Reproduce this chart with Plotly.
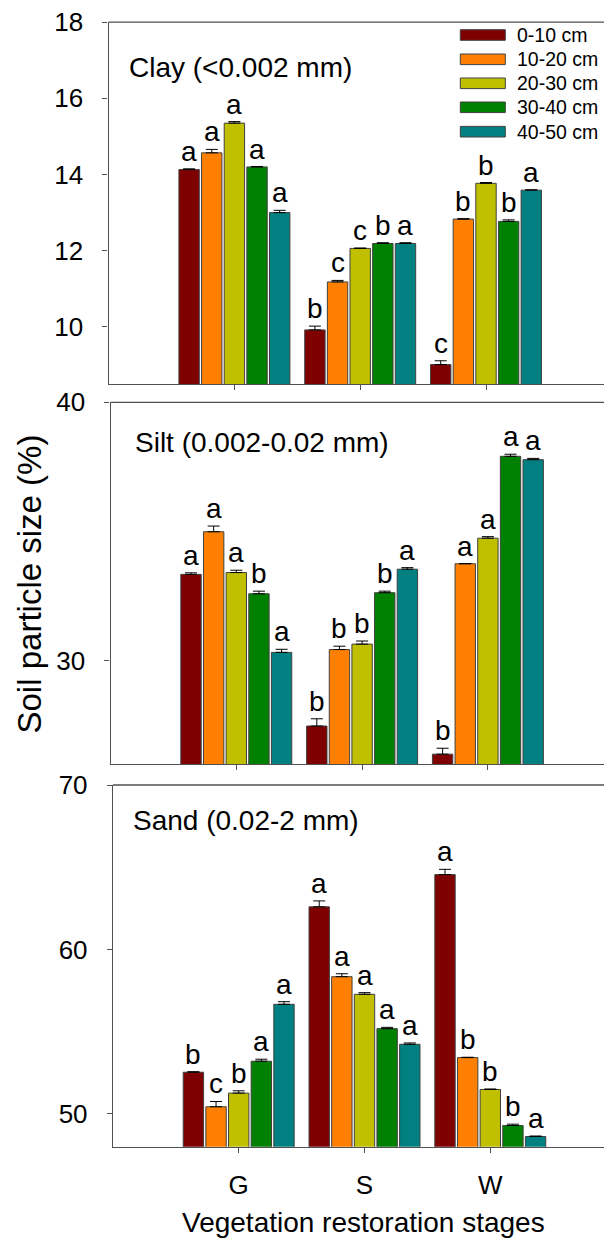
import plotly.graph_objects as go

stages = ["G", "S", "W"]
depths = ["0-10 cm", "10-20 cm", "20-30 cm", "30-40 cm", "40-50 cm"]
colors = ["#7F0000", "#FF8000", "#C0C000", "#008000", "#008080"]

# Clay (<0.002 mm): per depth, values for G, S, W
clay_mean = [[14.13, 9.92, 9.01], [14.57, 11.18, 12.83], [15.35, 12.06, 13.77],
             [14.20, 12.19, 12.77], [13.00, 12.19, 13.59]]
clay_err = [[0.02, 0.10, 0.10], [0.09, 0.04, 0.01], [0.04, 0.01, 0.02],
            [0.01, 0.02, 0.04], [0.06, 0.02, 0.01]]
clay_let = [["a", "b", "c"], ["a", "c", "b"], ["a", "c", "b"], ["a", "b", "b"], ["a", "a", "a"]]

# Silt (0.002-0.02 mm)
silt_mean = [[33.34, 27.47, 26.38], [34.99, 30.43, 33.75], [33.41, 30.64, 34.74],
             [32.59, 32.63, 37.91], [30.32, 33.54, 37.78]]
silt_err = [[0.06, 0.28, 0.23], [0.22, 0.13, 0.01], [0.09, 0.12, 0.06],
            [0.10, 0.06, 0.08], [0.12, 0.06, 0.05]]
silt_let = [["a", "b", "b"], ["a", "b", "a"], ["a", "b", "a"], ["b", "b", "a"], ["a", "a", "a"]]

# Sand (0.02-2 mm)
sand_mean = [[52.53, 62.59, 64.55], [50.43, 58.34, 53.42], [51.26, 57.27, 51.48],
             [53.20, 55.18, 49.29], [56.66, 54.23, 48.62]]
sand_err = [[0.03, 0.36, 0.32], [0.32, 0.18, 0.02], [0.14, 0.10, 0.03],
            [0.12, 0.08, 0.08], [0.16, 0.08, 0.03]]
sand_let = [["b", "a", "a"], ["c", "a", "b"], ["b", "a", "b"], ["a", "a", "b"], ["a", "a", "a"]]

panel_titles = ["Clay (&lt;0.002 mm)", "Silt (0.002-0.02 mm)", "Sand (0.02-2 mm)"]
y_ranges = [[8.5, 18], [26, 40], [48, 70]]
y_dticks = [2, 10, 10]
y_title = "Soil particle size (%)"
x_title = "Vegetation restoration stages"

W, H = 604, 1240
FONT = "Liberation Sans, Arial, sans-serif"
LINE = "#505050"

# panel geometry in pixels (left, top, bottom)
panels_px = [(108.6, 22.2, 384), (110.5, 402.3, 764), (112.9, 785, 1146.7)]
title_px = [(127, 67), (133, 442), (131, 820)]
px_per_cat = 125.8
RIGHT = 604.0  # the frame runs off the right edge of the picture

data = [(clay_mean, clay_err, clay_let), (silt_mean, silt_err, silt_let),
        (sand_mean, sand_err, sand_let)]

fig = go.Figure()
annotations = []
shapes = []
layout_axes = {}
offsets = [-0.36, -0.18, 0.0, 0.18, 0.36]

for p, (means, errs, lets) in enumerate(data):
    sfx = "" if p == 0 else str(p + 1)
    xa, ya = "x" + sfx, "y" + sfx
    left, top, bottom = panels_px[p]
    for d in range(len(depths)):
        fig.add_trace(go.Bar(
            x=stages, y=means[d], name=depths[d], xaxis=xa, yaxis=ya,
            marker=dict(color=colors[d], line=dict(color="#404040", width=1)),
            error_y=dict(type="data", symmetric=False, array=errs[d],
                         arrayminus=[0] * len(stages), color="black",
                         thickness=1, width=6),
            showlegend=False,
        ))
        for s in range(len(stages)):
            annotations.append(dict(
                x=s + offsets[d], y=means[d][s] + errs[d][s], xref=xa, yref=ya,
                text=lets[d][s], showarrow=False, yanchor="bottom", xanchor="center",
                yshift=0, font=dict(family=FONT, size=28, color="black")))
    x_end = -1 + (RIGHT - left) / px_per_cat
    layout_axes["xaxis" + sfx] = dict(
        domain=[left / W, RIGHT / W], anchor=ya, range=[-1, x_end], type="category",
        showline=True, linecolor=LINE, linewidth=1.3, mirror=False,
        ticks="outside", ticklen=5, tickcolor=LINE, showgrid=False, automargin=False,
        zeroline=False,
        showticklabels=(p == 2), tickfont=dict(family=FONT, size=26, color="black"),
        ticklabelstandoff=10)
    layout_axes["yaxis" + sfx] = dict(
        domain=[1 - bottom / H, 1 - top / H], anchor=xa, range=y_ranges[p],
        dtick=y_dticks[p], tick0=0, showline=True, linecolor=LINE, linewidth=1.3,
        mirror=False,
        ticks="outside", ticklen=5, tickcolor=LINE, showgrid=False, zeroline=False,
        automargin=False,
        tickfont=dict(family=FONT, size=26, color="black"), ticklabelstandoff=14)
    # top frame line of the panel
    shapes.append(dict(type="line", xref="paper", yref="paper",
                       x0=left / W, x1=1.0, y0=1 - top / H, y1=1 - top / H,
                       line=dict(color=LINE, width=1.3)))
    tx, ty = title_px[p]
    annotations.append(dict(
        x=tx / W, y=1 - ty / H, xref="paper", yref="paper", text=panel_titles[p],
        showarrow=False, xanchor="left", yanchor="middle",
        font=dict(family=FONT, size=28, color="black")))

# manual legend (top panel)
leg_rows = [35, 59.3, 83.3, 107.3, 131.7]
for d in range(len(depths)):
    yc = leg_rows[d]
    shapes.append(dict(type="rect", xref="paper", yref="paper",
                       x0=460.3 / W, x1=505.3 / W,
                       y0=1 - (yc + 5.3) / H, y1=1 - (yc - 5.3) / H,
                       fillcolor=colors[d], line=dict(color="#404040", width=1)))
    annotations.append(dict(x=515 / W, y=1 - yc / H, xref="paper", yref="paper",
                            text=depths[d], showarrow=False, xanchor="left",
                            yanchor="middle",
                            font=dict(family=FONT, size=19.5, color="black")))

# axis titles
annotations.append(dict(x=28.5 / W, y=1 - 584 / H, xref="paper", yref="paper",
                        text=y_title, textangle=-90, showarrow=False,
                        xanchor="center", yanchor="middle",
                        font=dict(family=FONT, size=33, color="black")))
annotations.append(dict(x=363.5 / W, y=1 - 1222 / H, xref="paper", yref="paper",
                        text=x_title, showarrow=False, xanchor="center",
                        yanchor="middle",
                        font=dict(family=FONT, size=28, color="black")))

fig.update_layout(
    width=W, height=H, margin=dict(l=0, r=0, t=0, b=0, pad=0),
    paper_bgcolor="white", plot_bgcolor="white",
    barmode="group", bargap=0.1, bargroupgap=0.1,
    annotations=annotations, shapes=shapes, showlegend=False,
    **layout_axes)

fig.write_html("out.html", config={"displayModeBar": False},
               post_script="document.body.style.margin='0';"
                           "document.body.style.overflow='hidden';")
